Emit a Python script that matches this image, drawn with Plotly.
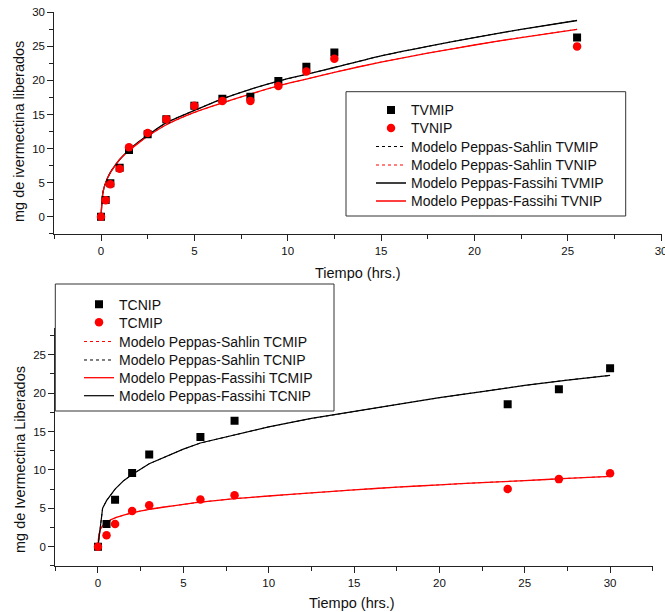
import plotly.graph_objects as go

# the page body margin is removed after plotting (post_script), so lay out in reference pixels
OFFX, OFFY = 0, 0
W, H = 665 - OFFX, 612 - OFFY
def px(x): return (x - OFFX) / W
def py(y): return 1 - (y - OFFY) / H

FONT = "Arial, Liberation Sans, sans-serif"

# ---------------- top chart data ----------------
t_top = [0, 0.25, 0.5, 1, 1.5, 2.5, 3.5, 5, 6.5, 8, 9.5, 11, 12.5, 25.5]
tvmip = [0, 2.45, 4.9, 7.2, 9.8, 12.1, 14.3, 16.3, 17.3, 17.6, 19.9, 22.0, 24.1, 26.3]
tvnip = [0, 2.4, 4.75, 7.05, 10.2, 12.3, 14.3, 16.3, 17.0, 17.0, 19.2, 21.3, 23.2, 25.0]

t_fit_top = [0, 0.1, 0.25, 0.5, 0.75, 1, 1.5, 2, 2.5, 3.5, 5, 6.5, 8, 9.5, 11, 12.5, 15, 17.5, 20, 22.5, 25.5]
fit_tvmip = [0, 3.5, 5.0, 6.5, 7.5, 8.4, 9.8, 10.95, 11.95, 13.8, 15.6, 17.3, 18.7, 19.9, 20.9, 21.9, 23.6, 25.0, 26.3, 27.5, 28.8]
fit_tvnip = [0, 3.5, 5.0, 6.45, 7.5, 8.4, 9.7, 10.8, 11.8, 13.5, 15.3, 16.7, 18.0, 19.2, 20.2, 21.2, 22.7, 24.0, 25.2, 26.3, 27.5]

# ---------------- bottom chart data ----------------
t_bot = [0, 0.5, 1, 2, 3, 6, 8, 24, 27, 30]
tcnip = [0, 2.95, 6.1, 9.6, 12.0, 14.3, 16.4, 18.55, 20.5, 23.25]
tcmip = [0, 1.5, 2.95, 4.65, 5.4, 6.15, 6.7, 7.5, 8.8, 9.55]

t_fit_cnip = [0, 0.27, 0.5, 1, 1.5, 2, 3, 4, 5, 6, 8, 10, 12.5, 15, 17.5, 20, 22.5, 25, 27.5, 30]
fit_cnip = [0, 5.0, 6.0, 7.5, 8.6, 9.4, 10.8, 11.8, 12.7, 13.5, 14.6, 15.6, 16.7, 17.6, 18.5, 19.4, 20.2, 21.0, 21.7, 22.3]

t_fit_cmip = [0, 0.05, 0.15, 0.3, 0.5, 1, 1.5, 2, 3, 4, 5, 6, 8, 10, 12.5, 15, 17.5, 20, 22.5, 25, 27.5, 30]
fit_cmip = [0, 1.5, 2.3, 2.8, 3.2, 3.75, 4.1, 4.4, 4.85, 5.2, 5.5, 5.8, 6.25, 6.6, 7.0, 7.4, 7.75, 8.05, 8.35, 8.6, 8.9, 9.15]

BLACK = "#000000"
RED = "#ff0000"

fig = go.Figure()

# legend slots (row centres in reference pixels)
top_rows = [110, 128, 146.5, 165, 183, 201]
bot_rows = [304.3, 322.3, 341.5, 360, 377.7, 395.7]
TOP_LEFT = 371
BOT_LEFT = 79
OFF = 15.6

def leg_name(i):
    return "legend" if i == 1 else f"legend{i}"

# ---- top chart traces ----
fig.add_trace(go.Scatter(x=t_fit_top, y=fit_tvmip, mode="lines", name="Modelo Peppas-Sahlin TVMIP",
                         line=dict(color=BLACK, width=1, dash="dot", shape="spline", smoothing=0.6),
                         xaxis="x", yaxis="y", legend=leg_name(3)))
fig.add_trace(go.Scatter(x=t_fit_top, y=fit_tvnip, mode="lines", name="Modelo Peppas-Sahlin TVNIP",
                         line=dict(color=RED, width=1, dash="dot", shape="spline", smoothing=0.6),
                         xaxis="x", yaxis="y", legend=leg_name(4)))
fig.add_trace(go.Scatter(x=t_fit_top, y=fit_tvmip, mode="lines", name="Modelo Peppas-Fassihi TVMIP",
                         line=dict(color=BLACK, width=1.3, shape="spline", smoothing=0.6),
                         xaxis="x", yaxis="y", legend=leg_name(5)))
fig.add_trace(go.Scatter(x=t_fit_top, y=fit_tvnip, mode="lines", name="Modelo Peppas-Fassihi TVNIP",
                         line=dict(color=RED, width=1.3, shape="spline", smoothing=0.6),
                         xaxis="x", yaxis="y", legend=leg_name(6)))
fig.add_trace(go.Scatter(x=t_top, y=tvmip, mode="markers", name="TVMIP",
                         marker=dict(symbol="square", size=8, color=BLACK),
                         xaxis="x", yaxis="y", legend=leg_name(1)))
fig.add_trace(go.Scatter(x=t_top, y=tvnip, mode="markers", name="TVNIP",
                         marker=dict(symbol="circle", size=8.5, color=RED),
                         xaxis="x", yaxis="y", legend=leg_name(2)))

# ---- bottom chart traces ----
fig.add_trace(go.Scatter(x=t_fit_cmip, y=fit_cmip, mode="lines", name="Modelo Peppas-Sahlin TCMIP",
                         line=dict(color=RED, width=1, dash="dot", shape="spline", smoothing=0.6),
                         xaxis="x2", yaxis="y2", legend=leg_name(9)))
fig.add_trace(go.Scatter(x=t_fit_cnip, y=fit_cnip, mode="lines", name="Modelo Peppas-Sahlin TCNIP",
                         line=dict(color=BLACK, width=1, dash="dot"),
                         xaxis="x2", yaxis="y2", legend=leg_name(10)))
fig.add_trace(go.Scatter(x=t_fit_cmip, y=fit_cmip, mode="lines", name="Modelo Peppas-Fassihi TCMIP",
                         line=dict(color=RED, width=1.3, shape="spline", smoothing=0.6),
                         xaxis="x2", yaxis="y2", legend=leg_name(11)))
fig.add_trace(go.Scatter(x=t_fit_cnip, y=fit_cnip, mode="lines", name="Modelo Peppas-Fassihi TCNIP",
                         line=dict(color=BLACK, width=1.2),
                         xaxis="x2", yaxis="y2", legend=leg_name(12)))
fig.add_trace(go.Scatter(x=t_bot, y=tcnip, mode="markers", name="TCNIP",
                         marker=dict(symbol="square", size=8, color=BLACK),
                         xaxis="x2", yaxis="y2", legend=leg_name(7)))
fig.add_trace(go.Scatter(x=t_bot, y=tcmip, mode="markers", name="TCMIP",
                         marker=dict(symbol="circle", size=8.5, color=RED),
                         xaxis="x2", yaxis="y2", legend=leg_name(8)))

# ---- axes ----
def axis_style(**kw):
    d = dict(showline=True, linecolor="#222", linewidth=1, ticks="outside", ticklen=6,
             tickwidth=1, tickcolor="#222", tick0=0, dtick=5, showgrid=False, zeroline=False,
             ticklabeloverflow="allow", automargin=False,
             tickfont=dict(size=11.5, family=FONT, color="#111"),
             minor=dict(dtick=2.5, ticks="outside", ticklen=4, tickwidth=1, tickcolor="#222"))
    d.update(kw)
    return d

# top: x 0 at 101px, 18.67px/unit ; y 0 at 216.7px, 6.813px/unit
tx0, tsx = 101, 18.67
ty0, tsy = 216.7, 6.813
xr1 = [-2.5, 30.05]
yr1 = [-2.5, 30.05]
# bottom: x 0 at 98px, 17.07px/unit ; y 0 at 546.7, 7.68px/unit
bx0, bsx = 98, 17.07
by0, bsy = 546.7, 7.68
xr2 = [-2.5, 32.5]
yr2 = [-2.5, 28.5]

fig.update_layout(
    xaxis=axis_style(domain=[px(tx0 + xr1[0] * tsx), px(tx0 + xr1[1] * tsx)], range=xr1, anchor="y"),
    yaxis=axis_style(domain=[py(ty0 - yr1[0] * tsy), py(ty0 - yr1[1] * tsy)], range=yr1, anchor="x"),
    xaxis2=axis_style(domain=[px(bx0 + xr2[0] * bsx), px(bx0 + xr2[1] * bsx)], range=xr2, anchor="y2"),
    yaxis2=axis_style(domain=[py(by0 - yr2[0] * bsy), py(by0 - yr2[1] * bsy)], range=yr2, anchor="x2"),
)

# ---- legends (one per row for exact placement) ----
legends = {}
for i, yc in enumerate(top_rows):
    legends[leg_name(i + 1)] = dict(x=px(TOP_LEFT), y=py(yc - OFF), xanchor="left", yanchor="top",
                                    bgcolor="rgba(0,0,0,0)", borderwidth=0,
                                    font=dict(size=14, family=FONT, color="#111"))
for i, yc in enumerate(bot_rows):
    legends[leg_name(i + 7)] = dict(x=px(BOT_LEFT), y=py(yc - OFF), xanchor="left", yanchor="top",
                                    bgcolor="rgba(0,0,0,0)", borderwidth=0,
                                    font=dict(size=14, family=FONT, color="#111"))
fig.update_layout(**legends)

# legend frames
fig.add_shape(type="rect", xref="paper", yref="paper", x0=px(346), x1=px(625.7), y0=py(216), y1=py(91.7),
              line=dict(color="#333", width=1), fillcolor="white", layer="above")
fig.add_shape(type="rect", xref="paper", yref="paper", x0=px(55.3), x1=px(334), y0=py(411), y1=py(284),
              line=dict(color="#333", width=1), fillcolor="white", layer="above")

# axis titles
title_font = dict(size=14.5, family=FONT, color="#111")
fig.add_annotation(text="Tiempo (hrs.)", xref="paper", yref="paper", x=px(358), y=py(273),
                   xanchor="center", yanchor="middle", showarrow=False, font=title_font)
fig.add_annotation(text="Tiempo (hrs.)", xref="paper", yref="paper", x=px(352), y=py(603),
                   xanchor="center", yanchor="middle", showarrow=False, font=title_font)
fig.add_annotation(text="mg de ivermectina liberados", xref="paper", yref="paper", x=px(19), y=py(132),
                   xanchor="center", yanchor="middle", showarrow=False, textangle=-90, font=title_font)
fig.add_annotation(text="mg de Ivermectina Liberados", xref="paper", yref="paper", x=px(20), y=py(460),
                   xanchor="center", yanchor="middle", showarrow=False, textangle=-90, font=title_font)

fig.update_layout(width=W, height=H, margin=dict(l=0, r=0, t=0, b=0, autoexpand=False),
                  paper_bgcolor="white", plot_bgcolor="white", showlegend=True,
                  font=dict(family=FONT))

fig.write_html("out.html", config={"displayModeBar": False},
               post_script="document.body.style.margin='0px';")
